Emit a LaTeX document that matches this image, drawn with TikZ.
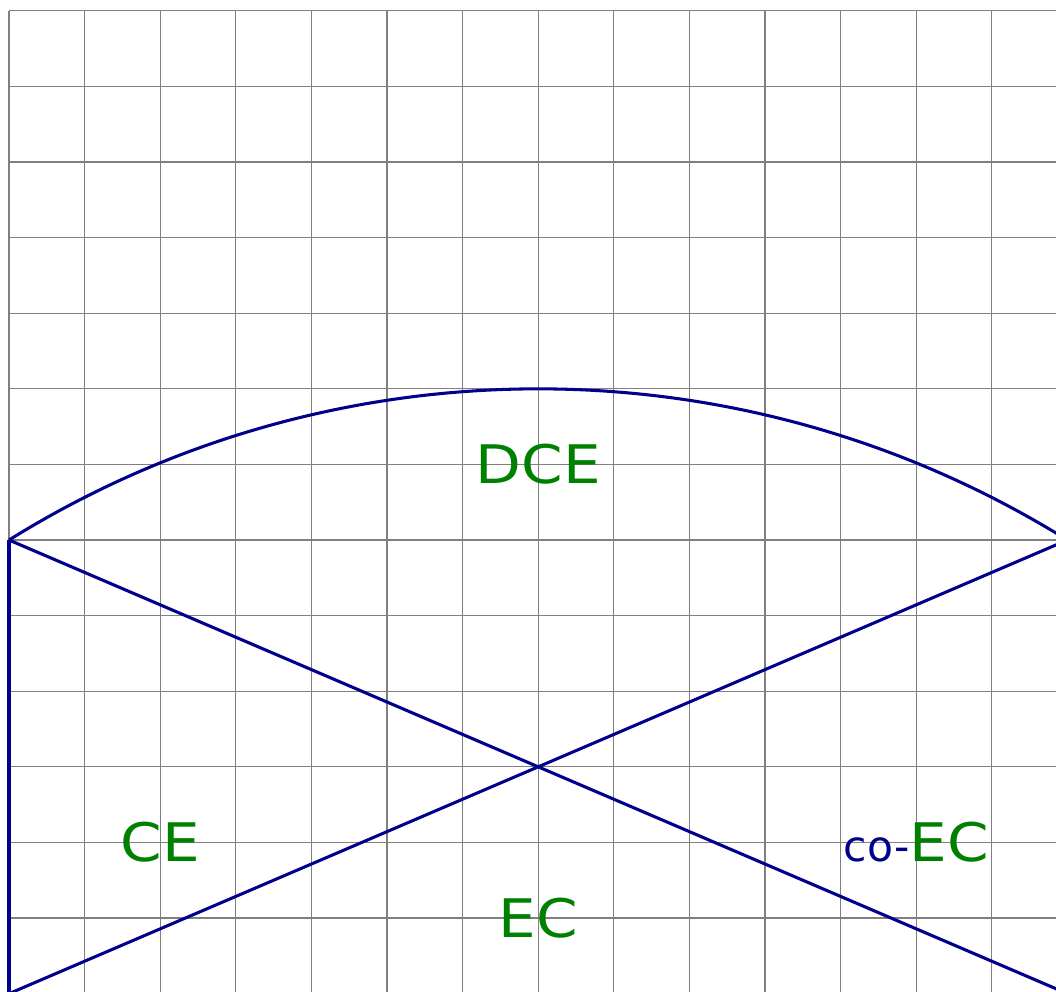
\documentclass[tikz,border=0pt]{standalone}
\usepackage{fontspec}
\setmainfont{DejaVu Sans}
\newfontfamily\widefont[FakeStretch=1.12]{DejaVu Sans}
\definecolor{lineblue}{RGB}{0,0,139}
\definecolor{labelgreen}{RGB}{0,128,0}
\begin{document}
\begin{tikzpicture}[
  gridline/.style={draw=gray, line width=0.45pt},
  edge/.style={draw=lineblue, line width=1.15pt},
  biglabel/.style={text=labelgreen, font=\widefont\fontsize{20}{24}\selectfont, inner sep=0pt, anchor=center}
]
\clip (-0.119,-5.966) rectangle (13.849,7.143);
\useasboundingbox (-0.119,-5.966) rectangle (13.849,7.143);
\draw[gridline] (0,-6) grid (14,7);
\coordinate (A) at (0,0);
\coordinate (B) at (14,0);
\coordinate (C) at (0,-6);
\coordinate (D) at (14,-6);
\draw[edge] (C) -- (A);
\draw[edge] (A) -- (D);
\draw[edge] (C) -- (B);
\draw[edge] (A) arc[start angle=121.89, end angle=58.11, radius=13.25];
\node[biglabel] (dce) at (7,1) {\vphantom{C}DCE};
\node[biglabel] (ce) at (2,-4) {\vphantom{C}CE};
\node[biglabel] (ec) at (7,-5) {\vphantom{C}EC};
\node[biglabel] (coec) at (12,-4) {\textcolor{lineblue}{\rmfamily\fontsize{16}{19}\selectfont co-}\vphantom{C}EC};
\end{tikzpicture}
\end{document}
